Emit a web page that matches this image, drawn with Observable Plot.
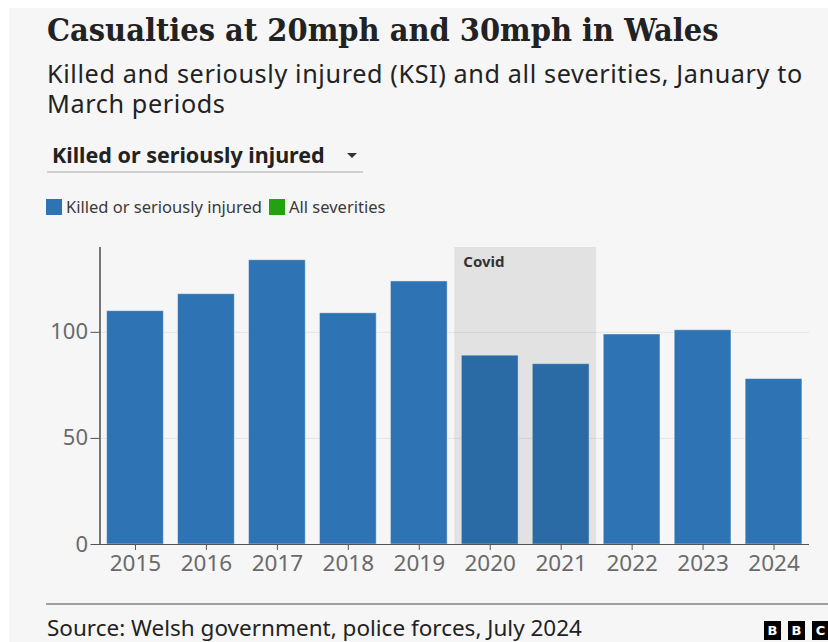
<!DOCTYPE html>
<html>
<head>
<meta charset="utf-8">
<script src="https://cdn.jsdelivr.net/npm/d3@7"></script>
<script src="https://cdn.jsdelivr.net/npm/@observablehq/plot@0.6"></script>
<style>
  html, body { margin: 0; padding: 0; background: #ffffff; }
  body { width: 828px; height: 642px; overflow: hidden; position: relative; font-family: "Noto Sans", sans-serif; }
  #card { position: absolute; left: 9px; top: 8px; width: 819px; height: 634px; background: #f6f6f6; overflow: hidden; }
  #title { position: absolute; left: 38px; top: 2px; margin: 0; font-family: "DejaVu Serif Condensed", "DejaVu Serif", serif; font-stretch: condensed; font-weight: 600; font-size: 32.2px; line-height: 40px; color: #222; white-space: nowrap; }
  #subtitle { position: absolute; left: 38px; top: 50px; width: 775px; margin: 0; font-size: 25.2px; letter-spacing: 0.62px; line-height: 30px; color: #222; font-weight: 400; }
  #dropdown { position: absolute; left: 38px; top: 134px; width: 311px; padding-left: 5px; height: 26px; line-height: 26px; font-size: 21.5px; font-weight: 700; color: #222; border-bottom: 2px solid #d0d0d0; padding-bottom: 3px; white-space: nowrap; }
  #dropdown .arrow { position: absolute; left: 300px; top: 11px; width: 0; height: 0; border-left: 5px solid transparent; border-right: 5px solid transparent; border-top: 5px solid #333; }
  #legend { position: absolute; left: 37px; top: 191px; height: 16px; line-height: 16px; font-size: 16.5px; color: #3a3a3a; white-space: nowrap; }
  #legend .item { display: inline-block; margin-right: 7px; }
  #legend .sw { display: inline-block; width: 16px; height: 16px; vertical-align: top; margin-right: 4px; }
  #chart { position: absolute; left: 0; top: 222px; }
  #rule { position: absolute; left: 37px; right: 0; top: 595px; border-top: 2px solid #a0a0a0; }
  #source { position: absolute; left: 38px; top: 609px; font-size: 22.5px; line-height: 22px; color: #222; white-space: nowrap; }
  #logo { position: absolute; left: 755px; top: 610px; white-space: nowrap; }
  #logo span { display: inline-block; width: 17px; height: 19px; background: #000; color: #fff; font-weight: 700; font-size: 13px; line-height: 19px; text-align: center; margin-right: 7px; font-family: "DejaVu Sans", sans-serif; }
</style>
</head>
<body>
<div id="card">
  <h1 id="title">Casualties at 20mph and 30mph in Wales</h1>
  <p id="subtitle">Killed and seriously injured (KSI) and all severities, January to March periods</p>
  <div id="dropdown">Killed or seriously injured<span class="arrow"></span></div>
  <div id="legend"></div>
  <div id="chart"></div>
  <div id="rule"></div>
  <div id="source">Source: Welsh government, police forces, July 2024</div>
  <div id="logo"><span>B</span><span>B</span><span>C</span></div>
</div>
<script>
// Data
const years = ["2015", "2016", "2017", "2018", "2019", "2020", "2021", "2022", "2023", "2024"];
const ksi = [110, 118, 134, 109, 124, 89, 85, 99, 101, 78];
const covidYears = ["2020", "2021"];
const covidLabel = "Covid";
const yTicks = [0, 50, 100];
const legendLabels = ["Killed or seriously injured", "All severities"];
const legendColors = ["#2e73b3", "#21a20f"];

// Legend
const legend = document.getElementById("legend");
legendLabels.forEach((label, i) => {
  const item = document.createElement("span");
  item.className = "item";
  const sw = document.createElement("span");
  sw.className = "sw";
  sw.style.background = legendColors[i];
  item.appendChild(sw);
  item.appendChild(document.createTextNode(label));
  legend.appendChild(item);
});

const data = years.map((y, i) => ({year: y, value: ksi[i]}));
const PADDING_INNER = 0.2;

// Covid shaded band drawn through the x scale
function covidBand(index, scales, values, dimensions) {
  const x = scales.x, y = scales.y;
  const step = x(years[1]) - x(years[0]);
  let bw = (scales.scales && scales.scales.x && scales.scales.x.bandwidth);
  if (!(bw > 0)) bw = x.bandwidth;
  if (!(bw > 0)) bw = step * (1 - PADDING_INNER);
  const pad = (step - bw) / 2;
  const x1 = x(covidYears[0]) - pad;
  const x2 = x(covidYears[covidYears.length - 1]) + bw + pad;
  const top = y(140), bottom = y(0);
  const g = d3.create("svg:g");
  g.append("rect")
    .attr("x", x1).attr("width", x2 - x1)
    .attr("y", top).attr("height", bottom - top)
    .attr("fill", "#000").attr("fill-opacity", 0.08);
  g.append("text")
    .attr("x", x1 + 9).attr("y", top).attr("dy", 20)
    .attr("text-anchor", "start")
    .attr("font-size", 15).attr("font-weight", 700).attr("fill", "#333")
    .attr("font-family", "Noto Sans, sans-serif")
    .text(covidLabel);
  return g.node();
}

const chart = Plot.plot({
  width: 819,
  height: 360,
  marginTop: 17,
  marginBottom: 46,
  marginLeft: 90.5,
  marginRight: 19,
  style: {background: "transparent", fontFamily: "Noto Sans, sans-serif", overflow: "visible"},
  x: {domain: years, range: [90.5, 800], paddingInner: PADDING_INNER, paddingOuter: 0.1, round: false, label: null},
  y: {domain: [0, 140], label: null},
  marks: [
    Plot.gridY(yTicks.filter(d => d > 0), {stroke: "#e4e4e4", strokeOpacity: 1}),
    Plot.barY(data, {x: "year", y: "value", fill: "#2e73b3", stroke: "#ffffff", strokeOpacity: 0.45, strokeWidth: 1}),
    covidBand,
    Plot.frame({anchor: "left", stroke: "#222", strokeWidth: 1.2}),
    Plot.ruleY([0], {stroke: "#555", strokeWidth: 1.2}),
    Plot.axisY({ticks: yTicks, tickSize: 9, tickPadding: 3, fontSize: 22, fill: "#6a6a6a", stroke: "#555", label: null}),
    Plot.axisX({tickSize: 6, tickPadding: 5, fontSize: 22.5, fill: "#6a6a6a", stroke: "#555", label: null})
  ]
});
document.getElementById("chart").appendChild(chart);
</script>
</body>
</html>
